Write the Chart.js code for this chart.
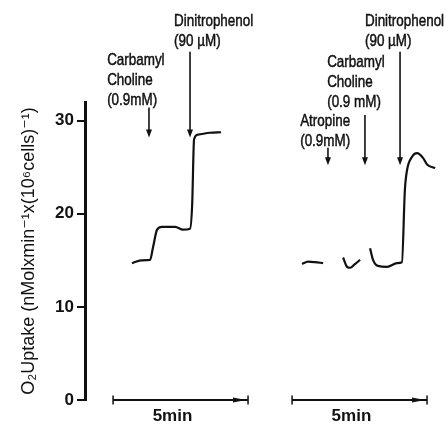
<!DOCTYPE html>
<html>
<head>
<meta charset="utf-8">
<script src="https://cdn.jsdelivr.net/npm/chart.js@4"></script>
<style>
  html, body { margin: 0; padding: 0; background: #fff; }
  #wrap { width: 446px; height: 425px; }
</style>
</head>
<body>
<div id="wrap"><canvas id="chart"></canvas></div>
<script>
  // time axis in minutes along the figure (left scale bar starts at 0)
  // left trace: carbamylcholine, then dinitrophenol
  var LEFT_T = [0.70, 1.04, 1.37, 1.48, 1.63, 1.81, 2.30, 2.59, 2.85, 2.93, 3.00, 3.15, 3.59, 4.00];
  var LEFT_O2 = [14.7, 15.0, 15.05, 16.4, 18.3, 18.6, 18.6, 18.3, 18.4, 21.0, 28.0, 28.5, 28.7, 28.75];

  // right trace: atropine, carbamylcholine, dinitrophenol (null = gap in the record)
  var RIGHT_T = [7.00, 7.22, 7.48, 7.78, 8.10, 8.52, 8.67, 8.78, 8.96, 9.15, 9.33, 9.52, 9.63, 9.81,
                 10.15, 10.52, 10.70, 10.81, 10.89, 11.07, 11.26, 11.48, 11.63, 11.93];
  var RIGHT_O2 = [14.6, 14.85, 14.8, 14.7, null, 15.3, 14.3, 14.2, 14.6, 15.05, null, 16.3, 15.05, 14.4,
                  14.3, 14.7, 14.8, 22.6, 24.7, 26.1, 26.5, 26.0, 25.3, 24.9];

  var Y_TICKS = [0, 10, 20, 30];
  var Y_TITLE = 'O\u2082Uptake (nMolxmin\u207B\u00B9x(10\u2076cells)\u207B\u00B9)';

  // 5 min scale bars
  var BAR_STARTS = [0, 6.63];
  var BAR_MIN = 5;
  var BAR_LABEL = '5min';

  // drug additions: arrow x (min), arrow top / tip (O2 units), label lines
  var ADD_X = [1.33, 2.85, 7.96, 9.33, 10.63];
  var ADD_TOP = [31.4, 37.4, 27.1, 30.6, 37.4];
  var ADD_TIP = [28.2, 28.2, 25.2, 25.2, 25.2];
  var ADD_LABELS = [
    ['Carbamyl', 'Choline', '(0.9mM)'],
    ['Dinitrophenol', '(90 \u00B5M)'],
    ['Atropine', '(0.9mM)'],
    ['Carbamyl', 'Choline', '(0.9 mM)'],
    ['Dinitrophenol', '(90 \u00B5M)']
  ];
  var LABEL_X = [-0.22, 2.26, 6.93, 7.93, 9.33];
  var LABEL_Y = [36.5, 40.7, 29.9, 36.3, 40.7];

  function pts(xs, ys) {
    return xs.map(function (x, i) { return { x: x, y: ys[i] }; });
  }

  var annotations = {
    id: 'annotations',
    afterDatasetsDraw: function (chart) {
      var ctx = chart.ctx;
      var xs = chart.scales.x, ys = chart.scales.y;
      ctx.save();
      ctx.fillStyle = '#111';
      ctx.strokeStyle = '#111';

      // addition arrows
      ADD_X.forEach(function (t, i) {
        var px = xs.getPixelForValue(t);
        var top = ys.getPixelForValue(ADD_TOP[i]);
        var tip = ys.getPixelForValue(ADD_TIP[i]);
        ctx.lineWidth = 1.6;
        ctx.beginPath();
        ctx.moveTo(px, top);
        ctx.lineTo(px, tip - 6);
        ctx.stroke();
        ctx.beginPath();
        ctx.moveTo(px - 3, tip - 8);
        ctx.lineTo(px + 3, tip - 8);
        ctx.lineTo(px, tip);
        ctx.closePath();
        ctx.fill();

        // condensed lettering like the original
        var lx = xs.getPixelForValue(LABEL_X[i]);
        var ly = ys.getPixelForValue(LABEL_Y[i]);
        ctx.save();
        ctx.translate(lx, ly);
        ctx.scale(0.79, 1);
        ctx.font = '17px "Liberation Sans", Arial, sans-serif';
        ctx.textAlign = 'left';
        ctx.textBaseline = 'middle';
        ctx.lineWidth = 0.5;
        ADD_LABELS[i].forEach(function (s, k) {
          ctx.fillText(s, 0, k * 20);
          ctx.strokeText(s, 0, k * 20);
        });
        ctx.restore();
      });

      // scale bar arrowheads and labels
      var y0 = ys.getPixelForValue(0);
      BAR_STARTS.forEach(function (s) {
        var xe = xs.getPixelForValue(s + BAR_MIN);
        ctx.beginPath();
        ctx.moveTo(xe - 15, y0 - 2.5);
        ctx.lineTo(xe - 2, y0);
        ctx.lineTo(xe - 15, y0 + 2.5);
        ctx.closePath();
        ctx.fill();

        ctx.font = 'bold 17px "Liberation Sans", Arial, sans-serif';
        ctx.textAlign = 'center';
        ctx.textBaseline = 'middle';
        ctx.fillText(BAR_LABEL, xs.getPixelForValue(s + 2.2), y0 + 16);
      });
      ctx.restore();
    }
  };

  var lineStyle = {
    borderColor: '#111',
    borderWidth: 2.2,
    pointRadius: 0,
    cubicInterpolationMode: 'monotone',
    spanGaps: false,
    clip: false
  };

  var datasets = [
    Object.assign({ label: 'Control', data: pts(LEFT_T, LEFT_O2) }, lineStyle),
    Object.assign({ label: 'Atropine', data: pts(RIGHT_T, RIGHT_O2) }, lineStyle)
  ];
  BAR_STARTS.forEach(function (s) {
    datasets.push({
      label: 'scale',
      data: [{ x: s, y: 0 }, { x: s + BAR_MIN, y: 0 }],
      borderColor: '#111',
      borderWidth: 2,
      pointStyle: 'line',
      pointRotation: 90,
      pointRadius: 4.5,
      pointBorderWidth: 1.5,
      pointBorderColor: '#111',
      clip: false
    });
  });

  new Chart(document.getElementById('chart'), {
    type: 'line',
    data: { datasets: datasets },
    plugins: [annotations],
    options: {
      responsive: true,
      maintainAspectRatio: false,
      animation: false,
      layout: { padding: { top: 102, bottom: 25, left: 10, right: 6 } },
      plugins: {
        legend: { display: false },
        tooltip: { enabled: false }
      },
      scales: {
        x: { type: 'linear', display: false, min: -1.04, max: 12.11 },
        y: {
          min: 0,
          max: 32,
          afterFit: function (scale) { scale.width = 75; },
          afterBuildTicks: function (scale) {
            scale.ticks = Y_TICKS.map(function (v) { return { value: v }; });
          },
          ticks: {
            color: '#111',
            padding: 3,
            font: { family: '"Liberation Sans", Arial, sans-serif', size: 17, weight: 'bold' }
          },
          grid: { drawOnChartArea: false, drawTicks: true, tickLength: 8, color: '#111', lineWidth: 2 },
          border: { display: true, color: '#111', width: 3 },
          title: {
            display: true,
            text: Y_TITLE,
            color: '#111',
            padding: { top: 8, bottom: 2 },
            font: { family: '"Liberation Sans", "DejaVu Sans", sans-serif', size: 18 }
          }
        }
      }
    }
  });
</script>
</body>
</html>
